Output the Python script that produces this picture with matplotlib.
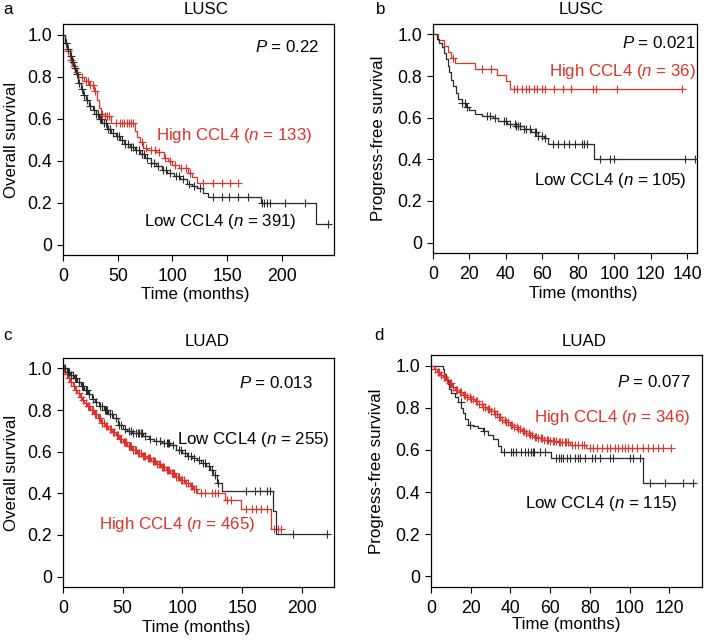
import numpy as np
import matplotlib
matplotlib.use('Agg')
import matplotlib.pyplot as plt

plt.rcParams['font.family'] = ['Liberation Sans', 'DejaVu Sans']
plt.rcParams['mathtext.fontset'] = 'custom'
plt.rcParams['mathtext.rm'] = 'Liberation Sans'
plt.rcParams['mathtext.it'] = 'Liberation Sans:italic'

RED = '#e2312a'
BLACK = '#2a2a2a'
FS = 12.2

# ---- panel a: LUSC overall survival ----
a_low_t = [0, 2, 4, 6, 8, 10, 12, 14, 16, 18, 21, 24, 27, 30, 33, 36, 40, 44, 48, 52, 56, 61, 66, 70,
           75, 80, 85, 90, 95, 101, 107, 113, 118, 122, 128, 132, 181, 231]
a_low_s = [1.0, 0.96, 0.93, 0.90, 0.87, 0.84, 0.81, 0.77, 0.74, 0.71, 0.69, 0.66, 0.64, 0.62, 0.60, 0.58,
           0.55, 0.53, 0.515, 0.50, 0.48, 0.465, 0.45, 0.43, 0.41, 0.39, 0.375, 0.355, 0.34, 0.325, 0.31,
           0.29, 0.28, 0.268, 0.245, 0.225, 0.20, 0.10]
a_low_end = 242
a_low_cens = [3, 5, 7, 9, 11, 13, 15, 17, 19, 22, 25, 28, 30, 32, 34, 35, 37, 39, 41, 43, 46, 49, 51, 54,
              57, 59, 62, 64, 67, 69, 72, 74, 77, 80, 83, 87, 91, 94, 98, 103, 106, 110, 115, 120, 125,
              137, 145, 152, 160, 169, 182, 184, 186, 189, 203, 221, 242]
a_high_t = [0, 2, 4, 6, 8, 11, 14, 19, 24, 28, 31, 33, 35, 38, 44, 66, 68, 70, 73, 77, 85, 92, 96, 100,
            106, 114, 118, 122]
a_high_s = [1.0, 0.96, 0.92, 0.88, 0.85, 0.82, 0.80, 0.78, 0.76, 0.73, 0.69, 0.65, 0.62, 0.61, 0.578,
            0.54, 0.51, 0.49, 0.46, 0.45, 0.44, 0.41, 0.40, 0.38, 0.365, 0.34, 0.32, 0.295]
a_high_end = 160
a_high_cens = [3, 5, 7, 10, 13, 17, 21, 23, 25, 27, 29, 36, 38, 40, 42, 48, 52, 54, 56, 58, 60, 62, 64,
               72, 76, 80, 84, 88, 93, 98, 102, 108, 112, 116, 128, 137, 145, 152.5, 160]

# ---- panel b: LUSC progress-free survival ----
b_low_t = [0, 2, 3.5, 5, 6, 7, 8, 9, 10, 11, 12.5, 14, 16, 18, 20, 23, 27, 33, 36, 41, 46, 50, 54, 58,
           61, 63.5, 88.5]
b_low_s = [1.0, 0.98, 0.96, 0.94, 0.91, 0.88, 0.85, 0.82, 0.78, 0.75, 0.72, 0.69, 0.67, 0.65, 0.635,
           0.62, 0.61, 0.60, 0.586, 0.57, 0.56, 0.546, 0.533, 0.514, 0.50, 0.475, 0.403]
b_low_end = 144.5
b_low_cens = [16, 17.5, 18.6, 29.5, 31.5, 34, 39, 40.5, 42.5, 45, 46, 47, 48, 50, 51.5, 53.5, 56, 57, 58,
              60, 62, 66, 69, 72, 75, 78, 82, 83, 85, 92, 97.5, 99.5, 139, 144.5]
b_high_t = [0, 3, 6, 8.5, 10, 12, 23, 35, 40, 42.5]
b_high_s = [1.0, 0.972, 0.944, 0.917, 0.889, 0.861, 0.833, 0.806, 0.778, 0.737]
b_high_end = 137.5
b_high_cens = [11, 27, 32, 44.5, 46.5, 49, 51, 53, 55.5, 57.5, 60, 62, 66.5, 71.5, 76, 88, 90, 101.5,
               137.5]

# ---- panel c: LUAD overall survival ----
c_low_t = [0, 3, 6, 9, 12, 15, 18, 21, 24, 27, 30, 34, 38, 42, 46, 50, 54, 58, 67, 72, 76, 83, 90, 95,
           100, 104, 108, 112, 116, 120, 123, 126, 129, 133, 175.5, 178.8]
c_low_s = [1.0, 0.985, 0.97, 0.955, 0.935, 0.915, 0.895, 0.875, 0.855, 0.84, 0.82, 0.80, 0.78, 0.76,
           0.73, 0.71, 0.697, 0.69, 0.675, 0.66, 0.65, 0.64, 0.633, 0.61, 0.595, 0.578, 0.57, 0.56,
           0.545, 0.53, 0.51, 0.49, 0.45, 0.411, 0.316, 0.205]
c_low_end = 221
c_low_cens = [2, 4, 5, 7, 8, 10, 11, 13, 16, 17, 19, 20, 22, 25, 28, 31, 33, 35, 36, 37, 39, 41, 44, 47,
              49, 52, 55, 57, 59, 61, 63, 64, 65, 66, 69, 73, 78, 81, 85, 87, 88, 89, 92, 97, 99, 102,
              105, 107, 110, 114, 117, 119, 122, 125, 127, 130, 153.7, 160.6, 164.8, 170.5, 173.2,
              192.7, 221]
c_high_t = [0, 2, 4, 6, 8, 10, 12, 14, 16, 18, 20, 23, 26, 29, 32, 35, 38, 41, 44, 47, 50, 54, 58, 62,
            66, 70, 74, 78, 82, 86, 90, 94, 98, 102, 106, 109, 112, 135.6, 149.5, 174]
c_high_s = [1.0, 0.975, 0.955, 0.935, 0.915, 0.895, 0.88, 0.865, 0.85, 0.835, 0.82, 0.80, 0.78, 0.76,
            0.74, 0.725, 0.71, 0.695, 0.68, 0.66, 0.645, 0.625, 0.61, 0.595, 0.58, 0.57, 0.555, 0.54,
            0.525, 0.514, 0.50, 0.48, 0.465, 0.45, 0.435, 0.42, 0.403, 0.368, 0.327, 0.229]
c_high_end = 183
c_high_cens = [1, 3, 5, 7, 9, 11, 13, 15, 17, 19, 21, 22, 24, 25, 27, 28, 30, 31, 33, 34, 36, 37, 39, 40,
               42, 43, 45, 46, 48, 49, 51, 52, 53, 55, 56, 57, 59, 60, 61, 63, 64, 65, 67, 68, 69, 71,
               72, 73, 75, 76, 77, 79, 80, 81, 83, 84, 85, 87, 88, 89, 91, 92, 93, 95, 96, 97, 99, 100,
               101, 103, 105, 107, 108, 110, 111, 116, 118.8, 124.4, 127.2, 130, 137, 141, 153.7, 158,
               162, 166, 170.5, 176.7, 180, 183]

# ---- panel d: LUAD progress-free survival ----
d_low_t = [0, 6, 6.7, 7.6, 8.5, 9.3, 10.2, 12, 13.6, 15.2, 16.1, 17, 18.6, 21, 23.6, 26, 28.6, 31, 33.6,
           35.3, 60.2, 107]
d_low_s = [1.0, 0.984, 0.96, 0.937, 0.913, 0.89, 0.87, 0.85, 0.826, 0.80, 0.775, 0.745, 0.72, 0.712,
           0.704, 0.69, 0.672, 0.65, 0.62, 0.589, 0.562, 0.445]
d_low_end = 133
d_low_cens = [15.1, 19.4, 26.9, 37, 40.3, 41.2, 42.9, 45.4, 47.1, 48.8, 50.4, 51.3, 52.1, 54.7, 57.2, 63,
              64.5, 65.5, 66.6, 68.3, 69.9, 72.5, 74.1, 75, 77.5, 80.9, 82.6, 85.1, 90.1, 91.8, 100.2,
              101.8, 105.2, 110.3, 117.8, 127, 132]
d_high_t = [0, 1.5, 3, 4.5, 6, 7.5, 9, 10.5, 12, 14, 16, 18, 20, 22, 24, 26, 28, 30, 32, 34, 36, 38, 40,
            42, 44, 46, 48, 50, 52, 54, 57, 60, 64, 70, 78]
d_high_s = [1.0, 0.984, 0.968, 0.955, 0.945, 0.93, 0.915, 0.90, 0.885, 0.874, 0.862, 0.852, 0.842, 0.832,
            0.82, 0.805, 0.795, 0.783, 0.77, 0.755, 0.742, 0.73, 0.72, 0.71, 0.70, 0.69, 0.68, 0.67,
            0.662, 0.655, 0.648, 0.642, 0.636, 0.625, 0.608]
d_high_end = 121
d_high_cens = [2, 3.5, 4, 5, 6.5, 7, 8, 9.5, 10, 11, 12.5, 13, 14.5, 15, 16.5, 17, 18, 19.5, 20, 21, 22.5,
               23, 24, 25.5, 26, 27, 28.5, 29, 30, 31.5, 32, 33, 34.5, 35, 36, 37.5, 38, 39, 40.5, 41,
               42, 43.5, 44, 45, 46.5, 47, 48, 49.5, 50, 51, 52.5, 53, 54, 55.5, 56, 57, 58.5, 59, 60,
               61.5, 62, 63, 64.5, 65, 66, 67.5, 68, 69, 71, 72.5, 74, 76, 77, 80, 81.7, 83.4, 85.9,
               88.5, 90.1, 92.6, 94.3, 96, 97.7, 99.3, 101, 103.6, 106.9, 109.4, 112, 114.5, 117, 121]


def km(ax, t, s, t_end, cens, color):
    tt = np.append(t, t_end)
    ss = np.append(s, s[-1])
    ax.step(tt, ss, where='post', color=color, lw=0.9)
    idx = np.searchsorted(t, cens, side='right') - 1
    ax.plot(cens, np.array(s)[idx], '+', color=color, ms=5.5, mew=0.8, ls='none')


def style(ax, xmax, xticks, ylabel, ylab_x, xlab_x, xlab_y):
    ax.set_xlim(0, xmax)
    ax.set_ylim(-0.05, 1.05)
    ax.set_xticks(xticks)
    ax.set_yticks([0, 0.2, 0.4, 0.6, 0.8, 1.0])
    ax.set_yticklabels(['0', '0.2', '0.4', '0.6', '0.8', '1.0'])
    ax.tick_params(direction='out', length=4, width=0.8, labelsize=FS + 0.5, pad=4)
    ax.tick_params(axis='x', pad=5.5)
    for sp in ax.spines.values():
        sp.set_linewidth(0.9)
    ax.set_ylabel(ylabel, fontsize=FS)
    ax.set_xlabel('Time (months)', fontsize=FS)
    ax.yaxis.set_label_coords(ylab_x, 0.5)
    ax.xaxis.set_label_coords(xlab_x, xlab_y)


W, H = 709, 642
fig = plt.figure(figsize=(W / 100, H / 100), dpi=100, facecolor='white')


def box(l, t, r, b):
    return [l / W, 1 - b / H, (r - l) / W, (b - t) / H]


axa = fig.add_axes(box(63, 24, 334, 255))
axb = fig.add_axes(box(433, 24, 697, 253))
axc = fig.add_axes(box(63, 358, 334, 587))
axd = fig.add_axes(box(431, 355, 702, 587))

km(axa, a_high_t, a_high_s, a_high_end, a_high_cens, RED)
km(axa, a_low_t, a_low_s, a_low_end, a_low_cens, BLACK)
style(axa, 247.5, [0, 50, 100, 150, 200], 'Overall survival', -0.164, 0.487, -0.137)
axa.text(234, 0.94, '$P$ = 0.22', ha='right', va='center', fontsize=FS)
axa.text(228, 0.52, 'High CCL4 ($n$ = 133)', ha='right', va='center', fontsize=FS, color=RED)
axa.text(213.5, 0.11, 'Low CCL4 ($n$ = 391)', ha='right', va='center', fontsize=FS)

km(axb, b_high_t, b_high_s, b_high_end, b_high_cens, RED)
km(axb, b_low_t, b_low_s, b_low_end, b_low_cens, BLACK)
style(axb, 145.5, [0, 20, 40, 60, 80, 100, 120, 140], 'Progress-free survival', -0.178, 0.57, -0.146)
axb.text(145, 0.957, '$P$ = 0.021', ha='right', va='center', fontsize=FS)
axb.text(145, 0.82, 'High CCL4 ($n$ = 36)', ha='right', va='center', fontsize=FS, color=RED)
axb.text(140, 0.30, 'Low CCL4 ($n$ = 105)', ha='right', va='center', fontsize=FS)

km(axc, c_high_t, c_high_s, c_high_end, c_high_cens, RED)
km(axc, c_low_t, c_low_s, c_low_end, c_low_cens, BLACK)
style(axc, 227, [0, 50, 100, 150, 200], 'Overall survival', -0.164, 0.49, -0.142)
axc.text(209, 0.93, '$P$ = 0.013', ha='right', va='center', fontsize=FS)
axc.text(223, 0.657, 'Low CCL4 ($n$ = 255)', ha='right', va='center', fontsize=FS)
axc.text(160.7, 0.252, 'High CCL4 ($n$ = 465)', ha='right', va='center', fontsize=FS, color=RED)

km(axd, d_low_t, d_low_s, d_low_end, d_low_cens, BLACK)
km(axd, d_high_t, d_high_s, d_high_end, d_high_cens, RED)
style(axd, 136.5, [0, 20, 40, 60, 80, 100, 120], 'Progress-free survival', -0.173, 0.50, -0.128)
axd.text(130.8, 0.92, '$P$ = 0.077', ha='right', va='center', fontsize=FS)
axd.text(130.8, 0.755, 'High CCL4 ($n$ = 346)', ha='right', va='center', fontsize=FS, color=RED)
axd.text(124, 0.345, 'Low CCL4 ($n$ = 115)', ha='right', va='center', fontsize=FS)

# panel titles and letters
for x, y, s in [(206, 10, 'LUSC'), (581, 10, 'LUSC'), (207, 342, 'LUAD'), (584, 342, 'LUAD')]:
    fig.text(x / W, 1 - y / H, s, ha='center', va='center', fontsize=FS)
for x, y, s in [(8, 10, 'a'), (381, 10, 'b'), (8, 335, 'c'), (379, 335, 'd')]:
    fig.text(x / W, 1 - y / H, s, ha='center', va='center', fontsize=FS)

fig.savefig('out.png', dpi=100, facecolor='white')
